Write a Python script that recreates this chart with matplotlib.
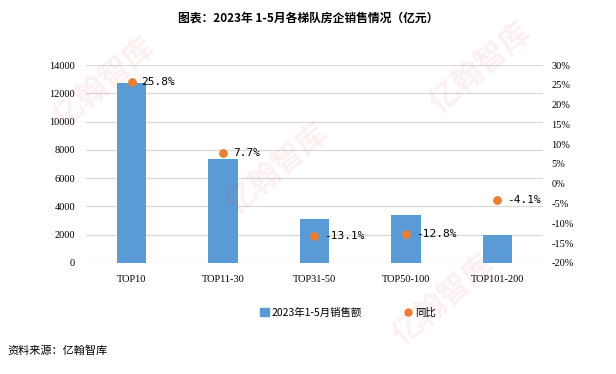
import matplotlib
matplotlib.use("Agg")
import matplotlib.pyplot as plt
from matplotlib.lines import Line2D
from matplotlib.patches import Patch
from matplotlib.ticker import FuncFormatter

plt.rcParams["font.family"] = ["Noto Sans CJK SC", "DejaVu Sans"]

categories = ["TOP10", "TOP11-30", "TOP31-50", "TOP50-100", "TOP101-200"]
sales = [12720, 7350, 3110, 3400, 1990]
yoy = [25.8, 7.7, -13.1, -12.8, -4.1]

BAR = "#5B9BD5"
DOT = "#ED7D31"
GRID = "#D9D9D9"
num_font = ["Liberation Serif", "DejaVu Serif"]

fig = plt.figure(figsize=(6.16, 3.74), dpi=100)
ax = fig.add_axes([0.1396, 0.2968, 0.7419, 0.5294])

x = list(range(len(categories)))
ax.bar(x, sales, width=0.32, color=BAR, zorder=2)
ax.set_xlim(-0.5, len(categories) - 0.5)
ax.set_ylim(0, 14000)
ax.set_yticks(range(0, 14001, 2000))
ax.yaxis.grid(True, color=GRID, linewidth=0.9, zorder=0)
ax.set_axisbelow(True)
for s in ax.spines.values():
    s.set_visible(False)
ax.tick_params(axis="both", length=0, labelsize=7.5)
ax.tick_params(axis="y", pad=8)
ax.tick_params(axis="x", pad=9)
ax.set_xticks(x)
ax.set_xticklabels(categories, family=num_font)
for t in ax.get_yticklabels():
    t.set_family(num_font)

ax2 = ax.twinx()
ax2.set_ylim(-20, 30)
ax2.set_yticks(range(-20, 31, 5))
ax2.yaxis.set_major_formatter(FuncFormatter(lambda v, p: f"{int(v)}%"))
for s in ax2.spines.values():
    s.set_visible(False)
ax2.tick_params(axis="y", length=0, labelsize=7.5, pad=6)
for t in ax2.get_yticklabels():
    t.set_family(num_font)
ax2.scatter(x, yoy, s=28, color=DOT, zorder=3)
for xi, v in zip(x, yoy):
    ax2.annotate(f"{v:.1f}%", (xi, v), xytext=(7, 0), textcoords="offset points",
                 ha="left", va="center", fontsize=8, family=["DejaVu Sans Mono"])

fig.text(0.5, 0.952, "图表：2023年 1-5月各梯队房企销售情况（亿元）", ha="center", va="center",
         fontsize=8.5, fontweight="bold")

handles = [Patch(color=BAR, label="2023年1-5月销售额"),
           Line2D([], [], marker="o", linestyle="", color=DOT, markersize=5, label="同比")]
fig.legend(handles=handles, loc="center", bbox_to_anchor=(0.565, 0.165), ncol=2, frameon=False,
           fontsize=7.5, handlelength=0.8, handleheight=0.8, handletextpad=0.3, columnspacing=4)

fig.text(0.012, 0.062, "资料来源：亿翰智库", ha="left", va="center", fontsize=8)

# faint watermarks, kept inside the canvas
for wx, wy in [(0.17, 0.78), (0.45, 0.55), (0.78, 0.82), (0.72, 0.2)]:
    fig.text(wx, wy, "亿翰智库", rotation=40, fontsize=22, fontweight="bold", color="#E8252B",
             alpha=0.07, ha="center", va="center", zorder=0)

fig.savefig("out.png", dpi=100)
